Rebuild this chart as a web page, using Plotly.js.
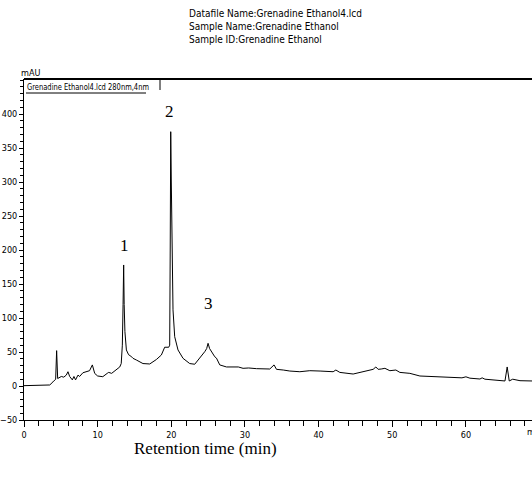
<!DOCTYPE html>
<html><head><meta charset="utf-8">
<script src="https://cdn.plot.ly/plotly-3.0.1.min.js"></script>
<style>html,body{margin:0;padding:0;background:#fff}#chart{width:532px;height:479px}</style>
</head><body><div id="chart"></div>
<script>
// Retention time (min)
const time = [0,1,2,3,3.5,3.93,4.16,4.3,4.43,4.57,5.07,5.4,5.74,5.97,6.2,6.56,6.78,7.0,7.33,7.55,8.0,8.46,8.9,9.28,9.6,10.0,10.7,11.3,11.5,11.9,12.5,13.0,13.2,13.35,13.45,13.53,13.6,13.7,13.9,14.2,14.5,14.8,15.3,16.15,17.07,17.98,18.65,19.1,19.65,19.78,19.85,19.92,20.0,20.1,20.23,20.46,20.91,21.59,22.5,23.18,23.86,24.54,24.8,24.99,25.2,25.45,25.7,25.9,26.13,26.58,27.49,28.38,29.1,29.74,30.5,31.56,32.4,33.37,33.95,34.28,35.2,36.09,37.45,38.8,40.2,41.97,42.34,42.88,44.69,45.6,46.5,47.4,47.77,48.08,48.5,49.0,49.67,50.49,51.03,52.39,53.75,55.56,57.38,59.46,60.0,60.54,61.9,62.2,62.58,63.71,65.3,65.6,65.88,66.35,67.34,69.0];
// Absorbance (mAU)
const mau = [0.5,0.6,0.8,1.0,1.5,6,9,10,52,11,14,13,16,21,14,9,14,9,16,14,19.5,21,22.5,31,18.5,14.7,13.7,18.6,20,18.6,23.5,28,33,60,120,178,120,80,53,46,44,40.7,38,33,32.4,39,45.6,57,57,60,200,374,300,180,112,72.5,53,40.7,33,32,40.7,50.5,55,62.8,55,50,45,43,41,31,28,27.5,28,26,26.5,25.5,25.5,25,31,24.5,23.5,22,21,22.5,22,21,23.5,20,17.6,20,22,24.5,28,24.5,25,26,22.5,23.5,20,18.6,14.7,13.7,12.8,12,13.5,11.5,10.3,12,10,8.8,7.4,28,7.4,10,7.8,7.4];
const peakLabels = ['1','2','3'];
const peakX = [13.6, 19.7, 25.0];
const peakY = [207, 403, 121];
const headerLines = ['Datafile Name:Grenadine Ethanol4.lcd','Sample Name:Grenadine Ethanol','Sample ID:Grenadine Ethanol'];
const legendText = 'Grenadine Ethanol4.lcd 280nm,4nm';

const narrow = 'DejaVu Sans Condensed, Liberation Sans Narrow, Arial Narrow, sans-serif';
const serif = 'Liberation Serif, Times New Roman, serif';

const annotations = [];
peakLabels.forEach((t,i)=>annotations.push({x:peakX[i],y:peakY[i],xref:'x',yref:'y',text:t,showarrow:false,font:{family:serif,size:17,color:'#000'}}));
headerLines.forEach((t,i)=>annotations.push({x:(187-24)/508,y:1+(79-14-12.7*i)/341,xref:'paper',yref:'paper',xanchor:'left',yanchor:'middle',text:t,showarrow:false,font:{family:narrow,size:10,color:'#000'}}));
annotations.push({x:(19-24)/508,y:1+(79-73)/341,xref:'paper',yref:'paper',xanchor:'left',yanchor:'middle',text:'mAU',showarrow:false,font:{family:narrow,size:9,color:'#000'}});
annotations.push({x:(24-24)/508,y:1-(86.5-79)/341,xref:'paper',yref:'paper',xanchor:'left',yanchor:'middle',text:legendText,showarrow:false,font:{family:narrow,size:9,color:'#000'}});
annotations.push({x:(205-24)/508,y:-(448-420)/341,xref:'paper',yref:'paper',xanchor:'center',yanchor:'middle',text:'Retention time (min)',showarrow:false,font:{family:serif,size:17,color:'#000'}});
annotations.push({x:(525-24)/508,y:-(432-420)/341,xref:'paper',yref:'paper',xanchor:'left',yanchor:'middle',text:'min',showarrow:false,font:{family:narrow,size:9,color:'#000'}});

const shapes = [
  {type:'line',xref:'paper',yref:'paper',x0:0,x1:1,y0:1,y1:1,line:{color:'#000',width:2}},
  {type:'line',xref:'paper',yref:'paper',x0:(160-24)/508,x1:(160-24)/508,y0:1,y1:1-(90-79)/341,line:{color:'#000',width:1}},
  {type:'line',xref:'paper',yref:'paper',x0:(26-24)/508,x1:(146-24)/508,y0:1-(93-79)/341,y1:1-(93-79)/341,line:{color:'#000',width:1}}
];

Plotly.newPlot('chart',[{
  x:time,y:mau,type:'scatter',mode:'lines',line:{color:'#000',width:1},hoverinfo:'skip'
}],{
  width:532,height:479,
  margin:{l:24,r:0,t:79,b:59,pad:0},
  paper_bgcolor:'#fff',plot_bgcolor:'#fff',
  showlegend:false,
  xaxis:{range:[0,68.97],tickmode:'array',tickvals:[0,10,20,30,40,50,60],ticktext:['0','10','20','30','40','50','60'],
    ticks:'outside',ticklen:6,tickwidth:1,tickcolor:'#000',showline:true,linecolor:'#000',linewidth:1,
    showgrid:false,zeroline:false,tickfont:{family:narrow,size:9,color:'#000'},
    minor:{dtick:2,tick0:0,ticks:'outside',ticklen:5,tickcolor:'#000',showgrid:false}},
  yaxis:{range:[-50,451.5],tickmode:'array',tickvals:[-50,0,50,100,150,200,250,300,350,400],
    ticks:'outside',ticklen:4,tickwidth:1,tickcolor:'#000',showline:true,linecolor:'#000',linewidth:1,
    showgrid:false,zeroline:false,tickfont:{family:narrow,size:9,color:'#000'},
    minor:{dtick:10,tick0:0,ticks:'outside',ticklen:3,tickcolor:'#000',showgrid:false}},
  annotations:annotations,shapes:shapes
},{staticPlot:true,displayModeBar:false}).then(function(gd){
  // compress the legend label to the narrow width of the original, keeping its left edge
  gd.querySelectorAll('.annotation-text').forEach(function(t){
    if (t.textContent === legendText) {
      var w = t.getComputedTextLength();
      var target = 122;
      t.setAttribute('textLength', String(target));
      t.setAttribute('lengthAdjust','spacingAndGlyphs');
      var prev = t.getAttribute('transform') || '';
      t.setAttribute('transform', 'translate(' + (-(w - target) / 2 + 1) + ',0) ' + prev);
    }
  });
});
</script></body></html>
